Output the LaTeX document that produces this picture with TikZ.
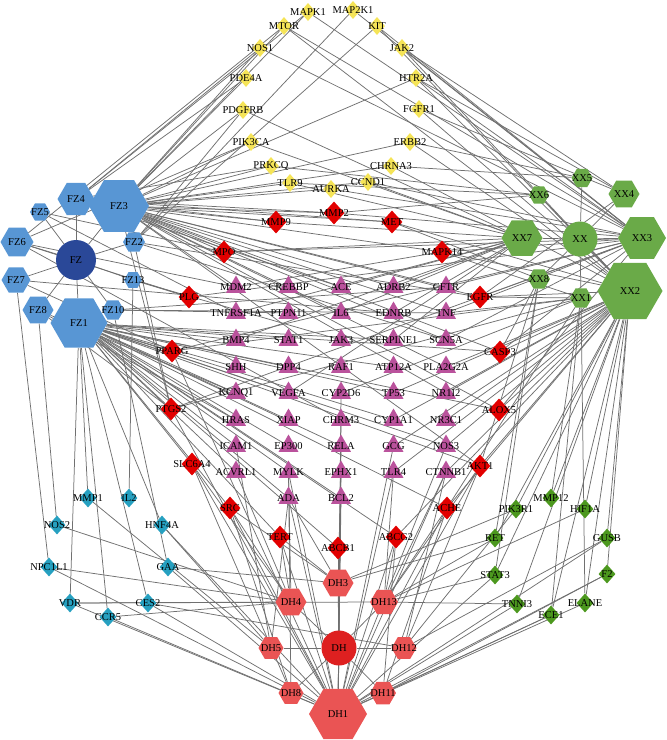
\documentclass[tikz,border=0pt]{standalone}
\usepackage{fontspec}
\setmainfont{Liberation Serif}
\usepackage{tikz}
\usetikzlibrary{shapes.geometric, backgrounds}
\definecolor{fzblue}{RGB}{88,150,212}
\definecolor{fzdark}{RGB}{42,72,152}
\definecolor{xxgreen}{RGB}{106,170,72}
\definecolor{dhred}{RGB}{234,84,84}
\definecolor{dhdark}{RGB}{222,32,32}
\definecolor{tgred}{RGB}{226,0,0}
\definecolor{tgyellow}{RGB}{245,228,88}
\definecolor{tgpink}{RGB}{186,82,156}
\definecolor{tgcyan}{RGB}{38,160,192}
\definecolor{tggreen}{RGB}{76,152,30}
\definecolor{edgegray}{RGB}{112,112,112}

\begin{document}
\begin{tikzpicture}[
  x=1pt, y=-1pt,
  every node/.style={font=\fontsize{10.5}{12}\selectfont},
  hexnode/.style={regular polygon, regular polygon sides=6, inner sep=0pt},
  fzhex/.style={hexnode, fill=fzblue},
  xxhex/.style={hexnode, fill=xxgreen},
  dhhex/.style={hexnode, fill=dhred},
  herb/.style={circle, inner sep=0pt},
  dia/.style={diamond, inner sep=0pt},
  yeldia/.style={dia, fill=tgyellow, minimum width=16pt, minimum height=18pt},
  reddia/.style={dia, fill=tgred, minimum width=21pt, minimum height=23pt},
  cyandia/.style={dia, fill=tgcyan, minimum width=17pt, minimum height=19pt},
  grndia/.style={dia, fill=tggreen, minimum width=17pt, minimum height=19pt},
  tri/.style={regular polygon, regular polygon sides=3, inner sep=0pt,
              fill=tgpink, minimum size=23pt},
  conn/.style={draw=edgegray, line width=0.75pt}
]
\useasboundingbox (0,0) rectangle (667,740);

% herbs and ingredients
\node[fzhex, minimum size=37pt, label=center:FZ4] (fz4) at (76,199) {};
\node[fzhex, minimum size=60pt, label=center:FZ3] (fz3) at (119,206) {};
\node[fzhex, minimum size=20pt, label=center:FZ5] (fz5) at (40,212) {};
\node[fzhex, minimum size=33pt, label=center:FZ6] (fz6) at (17,242) {};
\node[fzhex, minimum size=22pt, label=center:FZ2] (fz2) at (134,242) {};
\node[herb, fill=fzdark, minimum size=40pt, label=center:FZ] (fz) at (76,260) {};
\node[fzhex, minimum size=29pt, label=center:FZ7] (fz7) at (16,280) {};
\node[fzhex, minimum size=18pt, label=center:FZ13] (fz13) at (133,280) {};
\node[fzhex, minimum size=31pt, label=center:FZ8] (fz8) at (38,310) {};
\node[fzhex, minimum size=22pt, label=center:FZ10] (fz10) at (113,310) {};
\node[fzhex, minimum size=57pt, label=center:FZ1] (fz1) at (79,323) {};

\node[xxhex, minimum size=21pt, label=center:XX5] (xx5) at (582,178) {};
\node[xxhex, minimum size=20pt, label=center:XX6] (xx6) at (539,195) {};
\node[xxhex, minimum size=31pt, label=center:XX4] (xx4) at (624,194) {};
\node[xxhex, minimum size=41pt, label=center:XX7] (xx7) at (522,238) {};
\node[herb, fill=xxgreen, minimum size=35pt, label=center:XX] (xx) at (580,239) {};
\node[xxhex, minimum size=48pt, label=center:XX3] (xx3) at (642,238) {};
\node[xxhex, minimum size=22pt, label=center:XX8] (xx8) at (539,279) {};
\node[xxhex, minimum size=22pt, label=center:XX1] (xx1) at (581,298) {};
\node[xxhex, minimum size=65pt, label=center:XX2] (xx2) at (630,291) {};

\node[dhhex, minimum size=31pt, label=center:DH3] (dh3) at (338,583) {};
\node[dhhex, minimum size=31pt, label=center:DH4] (dh4) at (291,602) {};
\node[dhhex, minimum size=28pt, label=center:DH13] (dh13) at (384,602) {};
\node[herb, fill=dhdark, minimum size=35pt, label=center:DH] (dh) at (339,648) {};
\node[dhhex, minimum size=25pt, label=center:DH5] (dh5) at (271,648) {};
\node[dhhex, minimum size=25pt, label=center:DH12] (dh12) at (404,648) {};
\node[dhhex, minimum size=25pt, label=center:DH8] (dh8) at (291,693) {};
\node[dhhex, minimum size=26pt, label=center:DH11] (dh11) at (383,693) {};
\node[dhhex, minimum size=58pt, label=center:DH1] (dh1) at (338,714) {};

% targets
\node[yeldia, label=center:MAPK1] (mapk1) at (308,12) {};
\node[yeldia, label=center:MAP2K1] (map2k1) at (353,10) {};
\node[yeldia, label=center:MTOR] (mtor) at (284,26) {};
\node[yeldia, label=center:KIT] (kit) at (377,26) {};
\node[yeldia, label=center:NOS1] (nos1) at (260,48) {};
\node[yeldia, label=center:JAK2] (jak2) at (402,48) {};
\node[yeldia, label=center:PDE4A] (pde4a) at (246,78) {};
\node[yeldia, label=center:HTR2A] (htr2a) at (416,78) {};
\node[yeldia, label=center:PDGFRB] (pdgfrb) at (243,110) {};
\node[yeldia, label=center:FGFR1] (fgfr1) at (419,109) {};
\node[yeldia, label=center:PIK3CA] (pik3ca) at (251,142) {};
\node[yeldia, label=center:ERBB2] (erbb2) at (410,142) {};
\node[yeldia, label=center:PRKCQ] (prkcq) at (271,166) {};
\node[yeldia, label=center:CHRNA3] (chrna3) at (391,166) {};
\node[yeldia, label=center:TLR9] (tlr9) at (290,183) {};
\node[yeldia, label=center:CCND1] (ccnd1) at (368,182) {};
\node[yeldia, label=center:AURKA] (aurka) at (331,189) {};

\node[reddia, label=center:MMP2] (mmp2) at (334,213) {};
\node[reddia, label=center:MMP9] (mmp9) at (276,222) {};
\node[reddia, label=center:MET] (met) at (392,222) {};
\node[reddia, label=center:MPO] (mpo) at (224,252) {};
\node[reddia, label=center:MAPK14] (mapk14) at (442,252) {};
\node[reddia, label=center:PLG] (plg) at (189,297) {};
\node[reddia, label=center:EGFR] (egfr) at (480,297) {};
\node[reddia, label=center:PPARG] (pparg) at (172,351) {};
\node[reddia, label=center:CASP3] (casp3) at (500,352) {};
\node[reddia, label=center:PTGS2] (ptgs2) at (171,409) {};
\node[reddia, label=center:ALOX5] (alox5) at (499,410) {};
\node[reddia, label=center:SLC6A4] (slc6a4) at (192,464) {};
\node[reddia, label=center:AKT1] (akt1) at (480,466) {};
\node[reddia, label=center:SRC] (src) at (230,508) {};
\node[reddia, label=center:ACHE] (ache) at (447,508) {};
\node[reddia, label=center:TERT] (tert) at (280,537) {};
\node[reddia, label=center:ABCB1] (abcb1) at (338,548) {};
\node[reddia, label=center:ABCG2] (abcg2) at (396,537) {};

\foreach \n/\t [count=\i] in {mdm2/MDM2, crebbp/CREBBP, ace/ACE, adrb2/ADRB2, cftr/CFTR}
  \node[tri, label=center:\t] (\n) at ({236+52.5*(\i-1)},287) {};
\foreach \n/\t [count=\i] in {tnfrsf1a/TNFRSF1A, ptpn11/PTPN11, il6/IL6, ednrb/EDNRB, tnf/TNF}
  \node[tri, label=center:\t] (\n) at ({236+52.5*(\i-1)},313) {};
\foreach \n/\t [count=\i] in {bmp4/BMP4, stat1/STAT1, jak3/JAK3, serpine1/SERPINE1, scn5a/SCN5A}
  \node[tri, label=center:\t] (\n) at ({236+52.5*(\i-1)},340) {};
\foreach \n/\t [count=\i] in {shh/SHH, dpp4/DPP4, raf1/RAF1, atp12a/ATP12A, pla2g2a/PLA2G2A}
  \node[tri, label=center:\t] (\n) at ({236+52.5*(\i-1)},367) {};
\foreach \n/\t [count=\i] in {kcnq1/KCNQ1, vegfa/VEGFA, cyp2d6/CYP2D6, tp53/TP53, nr1i2/NR1I2}
  \node[tri, label=center:\t] (\n) at ({236+52.5*(\i-1)},393) {};
\foreach \n/\t [count=\i] in {hras/HRAS, xiap/XIAP, chrm3/CHRM3, cyp1a1/CYP1A1, nr3c1/NR3C1}
  \node[tri, label=center:\t] (\n) at ({236+52.5*(\i-1)},420) {};
\foreach \n/\t [count=\i] in {icam1/ICAM1, ep300/EP300, rela/RELA, gcg/GCG, nos3/NOS3}
  \node[tri, label=center:\t] (\n) at ({236+52.5*(\i-1)},446) {};
\foreach \n/\t [count=\i] in {acvrl1/ACVRL1, mylk/MYLK, ephx1/EPHX1, tlr4/TLR4, ctnnb1/CTNNB1}
  \node[tri, label=center:\t] (\n) at ({236+52.5*(\i-1)},472) {};
\node[tri, label=center:ADA] (ada) at (288.5,498) {};
\node[tri, label=center:BCL2] (bcl2) at (341,498) {};

\node[cyandia, label=center:MMP1] (mmp1) at (88,498) {};
\node[cyandia, label=center:IL2] (il2) at (129,498) {};
\node[cyandia, label=center:NOS2] (nos2) at (57,525) {};
\node[cyandia, label=center:HNF4A] (hnf4a) at (162,525) {};
\node[cyandia, label=center:NPC1L1] (npc1l1) at (49,567) {};
\node[cyandia, label=center:GAA] (gaa) at (168,567) {};
\node[cyandia, label=center:VDR] (vdr) at (70,603) {};
\node[cyandia, label=center:CES2] (ces2) at (148,603) {};
\node[cyandia, label=center:CCR5] (ccr5) at (108,617) {};

\node[grndia, label=center:MMP12] (mmp12) at (551,498) {};
\node[grndia, label=center:PIK3R1] (pik3r1) at (516,509) {};
\node[grndia, label=center:HIF1A] (hif1a) at (585,509) {};
\node[grndia, label=center:RET] (ret) at (495,538) {};
\node[grndia, label=center:GUSB] (gusb) at (607,538) {};
\node[grndia, label=center:STAT3] (stat3) at (495,575) {};
\node[grndia, label=center:F2] (f2) at (607,574) {};
\node[grndia, label=center:TNNI3] (tnni3) at (517,604) {};
\node[grndia, label=center:ELANE] (elane) at (585,603) {};
\node[grndia, label=center:ECE1] (ece1) at (551,615) {};

% links
\begin{scope}[on background layer]
\foreach \t in {fz1,fz2,fz3,fz4,fz5,fz6,fz7,fz8,fz10,fz13} \draw[conn] (fz) -- (\t);
\foreach \t in {xx1,xx2,xx3,xx4,xx5,xx6,xx7,xx8} \draw[conn] (xx) -- (\t);
\foreach \t in {dh1,dh3,dh4,dh5,dh8,dh11,dh12,dh13} \draw[conn] (dh) -- (\t);

\foreach \t in {mapk1,mtor,nos1,pde4a,pdgfrb,pik3ca,prkcq,tlr9,aurka,ccnd1,chrna3,erbb2,
  htr2a,mmp9,mmp2,met,mpo,mapk14,egfr,casp3,cftr,adrb2,ace,mdm2,tnf,il6,ptgs2,alox5,
  akt1,nr1i2,pla2g2a,scn5a} \draw[conn] (fz3) -- (\t);
\foreach \t in {mapk1,nos1,pde4a,prkcq,mmp2,mmp9,met,ace} \draw[conn] (fz4) -- (\t);
\foreach \t in {mpo,tnfrsf1a} \draw[conn] (fz5) -- (\t);
\foreach \t in {mtor,pik3ca,plg,mdm2,chrm3} \draw[conn] (fz6) -- (\t);
\foreach \t in {pdgfrb,kit,map2k1,egfr,ptgs2,scn5a} \draw[conn] (fz2) -- (\t);
\foreach \t in {npc1l1,pparg,ednrb} \draw[conn] (fz7) -- (\t);
\foreach \t in {nos2,kcnq1,hras,ptgs2} \draw[conn] (fz8) -- (\t);
\foreach \t in {cftr,gaa,tnf,ptpn11} \draw[conn] (fz10) -- (\t);
\foreach \t in {il2,plg,jak3} \draw[conn] (fz13) -- (\t);
\foreach \t in {pparg,ptgs2,slc6a4,src,tert,abcb1,abcg2,ache,akt1,alox5,casp3,shh,bmp4,
  kcnq1,hras,icam1,acvrl1,ada,bcl2,mylk,ep300,xiap,vegfa,dpp4,stat1,mmp1,ccr5,ces2,
  hnf4a,vdr,nos3,rela,tp53,cyp1a1,serpine1,atp12a} \draw[conn] (fz1) -- (\t);

\foreach \t in {mapk1,map2k1,mtor,kit,jak2,htr2a,nos1,ccnd1,aurka,mmp2,mapk14,egfr,cftr,
  tnf,scn5a,casp3,alox5,mpo,plg,pparg,ptgs2} \draw[conn] (xx3) -- (\t);
\foreach \t in {mtor,kit,jak2,htr2a,fgfr1,erbb2,chrna3,met,mapk14,egfr,casp3,alox5,akt1,
  pla2g2a,nr1i2,nr3c1,nos3,ctnnb1,ache,pik3r1,mmp12,hif1a,gusb,ret,f2,elane,ece1,stat3,
  tnni3,abcg2,tp53,cyp1a1,gcg,tlr4} \draw[conn] (xx2) -- (\t);
\foreach \t in {pik3ca,pdgfrb,ccnd1,tlr9,mmp9,mpo,ednrb,adrb2,ace,serpine1,il6,vegfa,
  mdm2,tnfrsf1a,bmp4} \draw[conn] (xx7) -- (\t);
\foreach \t in {jak2,htr2a,fgfr1,egfr} \draw[conn] (xx4) -- (\t);
\foreach \t in {chrna3,erbb2} \draw[conn] (xx5) -- (\t);
\foreach \t in {prkcq,tlr9,mmp2} \draw[conn] (xx6) -- (\t);
\foreach \t in {met,casp3,akt1,ret,stat3} \draw[conn] (xx8) -- (\t);
\foreach \t in {egfr,mapk14,ptgs2,pparg,tnf,ache,mmp12,elane,ece1,cyp2d6} \draw[conn] (xx1) -- (\t);

\foreach \t in {abcb1,abcg2,tert,src,ache,akt1,slc6a4,ada,bcl2,mylk,ephx1,tlr4,ctnnb1,
  rela,gcg,nos3,cyp2d6,ptgs2,pparg,chrm3,ece1,elane,f2,gusb,tnni3,stat3,ccr5,ces2,vdr,
  gaa,hnf4a,npc1l1} \draw[conn] (dh1) -- (\t);
\foreach \t in {abcb1,tert,bcl2,ada,ephx1,ret,pik3r1,src,gaa} \draw[conn] (dh3) -- (\t);
\foreach \t in {tert,src,slc6a4,mylk,acvrl1,npc1l1,nos2,vdr,ccr5} \draw[conn] (dh4) -- (\t);
\foreach \t in {abcg2,ache,akt1,tlr4,ctnnb1,vdr,stat3,tnni3,ret,hif1a} \draw[conn] (dh13) -- (\t);
\foreach \t in {ada,icam1,mmp1,hnf4a} \draw[conn] (dh5) -- (\t);
\foreach \t in {akt1,gusb,pik3r1,ctnnb1,ces2} \draw[conn] (dh12) -- (\t);
\foreach \t in {src,slc6a4,mylk} \draw[conn] (dh8) -- (\t);
\foreach \t in {abcg2,ache,f2,ece1} \draw[conn] (dh11) -- (\t);
\end{scope}
\end{tikzpicture}
\end{document}
